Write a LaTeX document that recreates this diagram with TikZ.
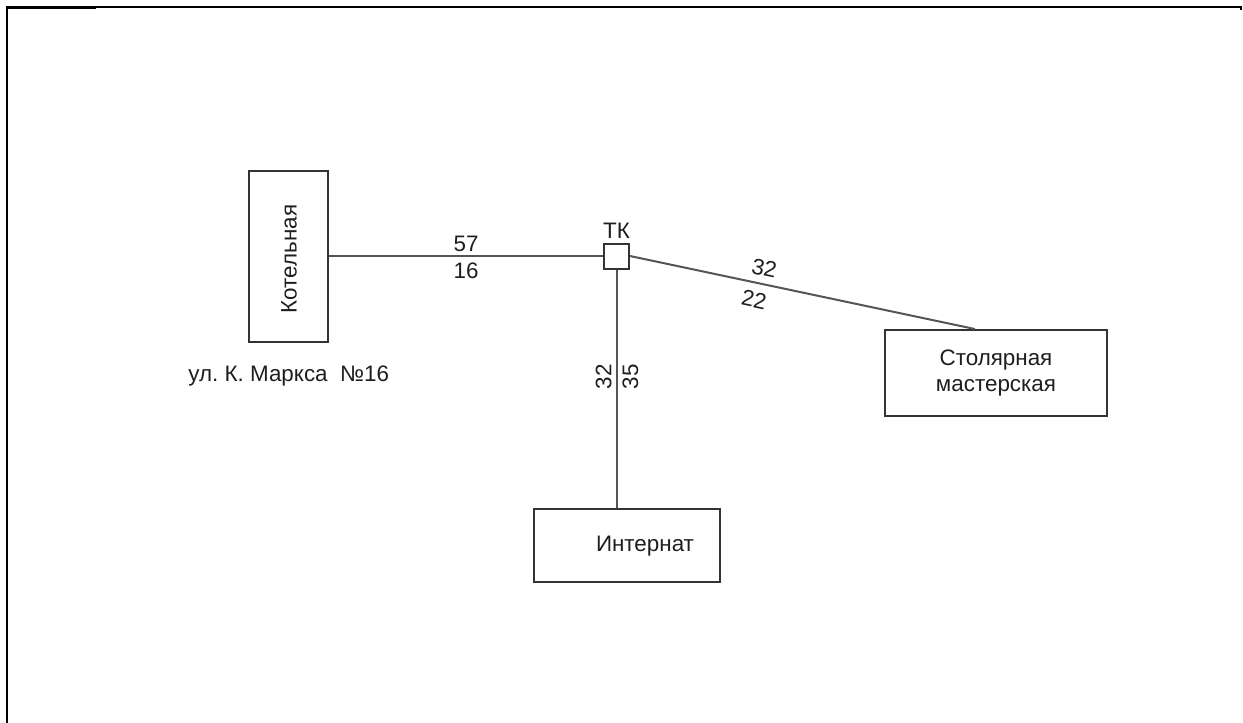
\documentclass[tikz,border=0pt]{standalone}
\usepackage{fontspec}
\setmainfont{Liberation Sans}
\usepackage{tikz}
\usetikzlibrary{positioning,calc}
\definecolor{ink}{HTML}{1E1E1E}
\definecolor{pipegray}{HTML}{555555}
\definecolor{edge}{HTML}{333333}
\tikzset{
  pipe/.style={draw=pipegray,line width=1pt},
  bldg/.style={draw=edge,line width=1pt,inner sep=0pt,fill=white},
  num/.style={font=\fontsize{11.2}{13}\selectfont,text=ink,inner sep=1pt,align=center},
  sheet/.style={draw=black,line width=1.1pt}
}
\frenchspacing
\begin{document}
\begin{tikzpicture}[x=0.5pt,y=-0.5pt]
  \useasboundingbox (0,0) rectangle (1243,723);
  % sheet frame
  \draw[sheet] (7,723) -- (7,7) -- (1241,7) -- (1241,10);
  \draw[black,line width=1.6pt] (6,7.5) -- (96,7.5);
  % buildings
  \node[bldg,minimum width=39.5pt,minimum height=85.5pt] (kot) at (288.5,256) {};
  \node[num,rotate=90] (kotT) at (289,259) {Котельная};
  \node[bldg,minimum size=12.5pt] (tk) at (616.5,256) {};
  \node[num,above=1pt of tk] (tkT) {ТК};
  \node[bldg,minimum width=93pt,minimum height=36.5pt] (int) at (627,545.5) {};
  \node[num] (intT) at (645,546) {Интернат};
  \node[bldg,minimum width=111pt,minimum height=43pt] (stol) at (996,373) {};
  \node[num] (stolT) at (stol.center) {Столярная\\мастерская};
  \node[num,anchor=west] (addr) at (186,376) {ул. К. Маркса\ \ №16};
  \coordinate (stolIn) at ($(stol.north west)!0.405!(stol.north east)$);
  % pipes
  \draw[pipe] (kot.east) -- node[num,above=0.5pt,pos=0.5] (l57) {57}
    node[num,below=2pt,pos=0.5] (l16) {16} (tk.west);
  \draw[pipe] (tk.south) -- node[num,rotate=90,anchor=south,inner sep=2pt,pos=0.45] (l32v) {32}
    node[num,rotate=90,anchor=north,inner sep=2.5pt,pos=0.45] (l35) {35} (tk.south |- int.north);
  \draw[pipe] (tk.east) -- node[num,sloped,above=2.5pt,pos=0.38] (l32d) {32}
    node[num,sloped,below=3pt,pos=0.37] (l22) {22} (stolIn);
\end{tikzpicture}
\end{document}
